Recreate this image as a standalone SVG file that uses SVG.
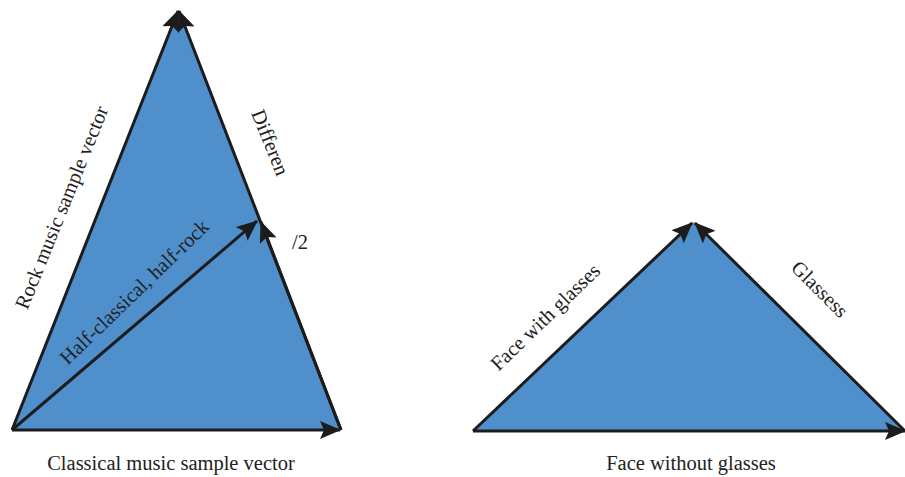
<svg xmlns="http://www.w3.org/2000/svg" width="905" height="477" viewBox="0 0 905 477">
<style>
.tri{fill:#4F8FCB;stroke:none}
.vec{stroke:#1c1c1c;stroke-width:3;fill:none;marker-end:url(#ah)}
.lbl{font-family:"Liberation Serif","DejaVu Serif",serif;font-size:20.5px;fill:#222;text-anchor:middle}
</style>
<defs>
<marker id="ah" markerUnits="userSpaceOnUse" markerWidth="26" markerHeight="22" refX="20" refY="9" orient="auto">
<path d="M0,0 L21,9 L0,18 L4,9 Z" fill="#1c1c1c"/>
</marker>
</defs>
<g id="left-triangle">
<polygon class="tri" points="12,430 178,10 341,430"/>
</g>
<g id="right-triangle">
<polygon class="tri" points="473,431 693,222 905,431"/>
</g>
<g id="connectors">
<line class="vec" x1="12" y1="430" x2="178" y2="11"/>
<line class="vec" x1="341" y1="430" x2="179" y2="11"/>
<line class="vec" x1="12" y1="430" x2="340" y2="430"/>
<line class="vec" x1="12" y1="430" x2="257" y2="221"/>
<line class="vec" x1="341" y1="430" x2="261" y2="222"/>
<line class="vec" x1="473" y1="431" x2="692" y2="223"/>
<line class="vec" x1="905" y1="431" x2="695" y2="223"/>
<line class="vec" x1="473" y1="431" x2="905" y2="431"/>
</g>
<g id="labels">
<text class="lbl" transform="translate(68,210) rotate(-68)">Rock music sample vector</text>
<text class="lbl" transform="translate(264,145) rotate(68)">Differen</text>
<text class="lbl" x="300" y="249">/2</text>
<text class="lbl" transform="translate(139,297) rotate(-44)">Half-classical, half-rock</text>
<text class="lbl" x="171" y="470">Classical music sample vector</text>
<text class="lbl" transform="translate(550,322) rotate(-44)">Face with glasses</text>
<text class="lbl" transform="translate(815,294) rotate(45)">Glassess</text>
<text class="lbl" x="691" y="470">Face without glasses</text>
</g>
</svg>
